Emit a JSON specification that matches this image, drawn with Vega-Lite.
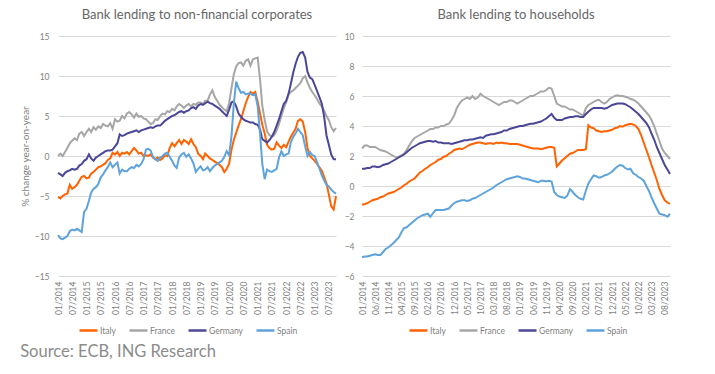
{
  "$schema": "https://vega.github.io/schema/vega-lite/v6.json",
  "background": "white",
  "padding": {"left": 20, "top": 9, "right": 5, "bottom": 5},
  "title": {"text": "Source: ECB, ING Research", "orient": "bottom", "anchor": "start", "fontSize": 16.5, "font": "Lato", "fontWeight": "normal", "color": "#8c8c8c", "offset": 8},
  "config": {
    "font": "Lato",
    "view": {"stroke": null},
    "axis": {"labelFont": "Lato", "labelColor": "#7f7f7f", "labelFontSize": 8.5, "domain": false, "ticks": false, "gridColor": "#d9d9d9", "gridWidth": 1},
    "legend": {"labelFont": "Lato", "labelFontSize": 8.5, "labelColor": "#7f7f7f", "symbolType": "stroke", "symbolSize": 324, "symbolStrokeWidth": 2.5, "labelOffset": 1, "columnPadding": 8, "direction": "horizontal", "gridAlign": "none", "padding": 0}
  },
  "datasets": {
    "corp": [
      {"d":"2014-01","Italy":-5.1,"France":0.0,"Germany":-2.1,"Spain":-9.9},
      {"d":"2014-02","Italy":-5.3,"France":0.3,"Germany":-2.3,"Spain":-10.3},
      {"d":"2014-03","Italy":-5.0,"France":0.0,"Germany":-2.5,"Spain":-10.4},
      {"d":"2014-04","Italy":-4.8,"France":0.5,"Germany":-2.1,"Spain":-10.2},
      {"d":"2014-05","Italy":-4.7,"France":1.0,"Germany":-1.9,"Spain":-10.0},
      {"d":"2014-06","Italy":-3.6,"France":1.6,"Germany":-1.8,"Spain":-9.4},
      {"d":"2014-07","Italy":-4.1,"France":1.9,"Germany":-1.6,"Spain":-9.2},
      {"d":"2014-08","Italy":-3.9,"France":2.2,"Germany":-1.7,"Spain":-9.3},
      {"d":"2014-09","Italy":-3.6,"France":2.0,"Germany":-1.6,"Spain":-9.1},
      {"d":"2014-10","Italy":-3.1,"France":2.8,"Germany":-1.2,"Spain":-9.3},
      {"d":"2014-11","Italy":-2.6,"France":3.0,"Germany":-1.0,"Spain":-9.5},
      {"d":"2014-12","Italy":-2.5,"France":2.5,"Germany":-0.6,"Spain":-7.0},
      {"d":"2015-01","Italy":-2.8,"France":3.0,"Germany":-0.4,"Spain":-6.6},
      {"d":"2015-02","Italy":-2.7,"France":3.4,"Germany":0.2,"Spain":-5.6},
      {"d":"2015-03","Italy":-2.2,"France":3.0,"Germany":-0.3,"Spain":-4.6},
      {"d":"2015-04","Italy":-2.0,"France":3.6,"Germany":-0.6,"Spain":-4.1},
      {"d":"2015-05","Italy":-1.7,"France":3.3,"Germany":-0.2,"Spain":-3.9},
      {"d":"2015-06","Italy":-1.4,"France":3.7,"Germany":0.0,"Spain":-3.5},
      {"d":"2015-07","Italy":-1.3,"France":3.5,"Germany":0.2,"Spain":-2.7},
      {"d":"2015-08","Italy":-1.1,"France":4.0,"Germany":0.4,"Spain":-2.3},
      {"d":"2015-09","Italy":-0.9,"France":3.8,"Germany":0.6,"Spain":-1.8},
      {"d":"2015-10","Italy":-0.5,"France":3.7,"Germany":0.7,"Spain":-1.4},
      {"d":"2015-11","Italy":-0.3,"France":4.1,"Germany":0.7,"Spain":-0.8},
      {"d":"2015-12","Italy":0.4,"France":3.4,"Germany":0.8,"Spain":-1.4},
      {"d":"2016-01","Italy":0.2,"France":4.6,"Germany":1.2,"Spain":-1.1},
      {"d":"2016-02","Italy":0.5,"France":4.3,"Germany":1.6,"Spain":-0.8},
      {"d":"2016-03","Italy":0.0,"France":4.4,"Germany":2.7,"Spain":-2.2},
      {"d":"2016-04","Italy":0.4,"France":5.0,"Germany":2.5,"Spain":-1.7},
      {"d":"2016-05","Italy":0.3,"France":4.7,"Germany":2.6,"Spain":-1.9},
      {"d":"2016-06","Italy":0.5,"France":5.3,"Germany":2.8,"Spain":-1.9},
      {"d":"2016-07","Italy":0.2,"France":5.5,"Germany":2.9,"Spain":-1.6},
      {"d":"2016-08","Italy":0.6,"France":5.2,"Germany":3.0,"Spain":-1.4},
      {"d":"2016-09","Italy":1.0,"France":4.8,"Germany":3.1,"Spain":-1.5},
      {"d":"2016-10","Italy":0.7,"France":5.3,"Germany":3.2,"Spain":-1.1},
      {"d":"2016-11","Italy":0.3,"France":4.9,"Germany":3.0,"Spain":-1.3},
      {"d":"2016-12","Italy":0.4,"France":5.0,"Germany":3.2,"Spain":-1.0},
      {"d":"2017-01","Italy":0.0,"France":4.7,"Germany":3.3,"Spain":-0.4},
      {"d":"2017-02","Italy":0.1,"France":4.6,"Germany":3.4,"Spain":0.8},
      {"d":"2017-03","Italy":0.0,"France":4.3,"Germany":3.5,"Spain":0.9},
      {"d":"2017-04","Italy":0.2,"France":4.0,"Germany":3.6,"Spain":0.7},
      {"d":"2017-05","Italy":-0.2,"France":4.1,"Germany":3.5,"Spain":-0.1},
      {"d":"2017-06","Italy":-0.4,"France":4.6,"Germany":3.7,"Spain":-0.4},
      {"d":"2017-07","Italy":-0.2,"France":4.5,"Germany":3.8,"Spain":-0.6},
      {"d":"2017-08","Italy":-0.5,"France":5.0,"Germany":3.8,"Spain":-0.2},
      {"d":"2017-09","Italy":-0.3,"France":5.3,"Germany":4.1,"Spain":0.0},
      {"d":"2017-10","Italy":0.1,"France":5.2,"Germany":4.4,"Spain":0.3},
      {"d":"2017-11","Italy":0.0,"France":5.6,"Germany":4.6,"Spain":0.4},
      {"d":"2017-12","Italy":1.0,"France":5.5,"Germany":4.8,"Spain":-0.1},
      {"d":"2018-01","Italy":1.6,"France":5.9,"Germany":5.0,"Spain":-0.6},
      {"d":"2018-02","Italy":1.2,"France":5.7,"Germany":5.1,"Spain":-1.2},
      {"d":"2018-03","Italy":1.6,"France":6.2,"Germany":5.3,"Spain":-1.5},
      {"d":"2018-04","Italy":2.0,"France":6.5,"Germany":5.5,"Spain":-0.2},
      {"d":"2018-05","Italy":1.5,"France":6.3,"Germany":5.6,"Spain":0.2},
      {"d":"2018-06","Italy":2.0,"France":6.0,"Germany":5.4,"Spain":0.4},
      {"d":"2018-07","Italy":1.8,"France":6.3,"Germany":5.6,"Spain":-0.1},
      {"d":"2018-08","Italy":1.5,"France":6.5,"Germany":5.7,"Spain":0.2},
      {"d":"2018-09","Italy":2.1,"France":6.2,"Germany":6.0,"Spain":-0.3},
      {"d":"2018-10","Italy":1.5,"France":6.5,"Germany":6.1,"Spain":-0.9},
      {"d":"2018-11","Italy":1.1,"France":6.4,"Germany":5.9,"Spain":-2.0},
      {"d":"2018-12","Italy":0.3,"France":6.7,"Germany":6.3,"Spain":-1.6},
      {"d":"2019-01","Italy":0.0,"France":6.7,"Germany":6.5,"Spain":-1.3},
      {"d":"2019-02","Italy":-0.4,"France":6.5,"Germany":6.4,"Spain":-1.8},
      {"d":"2019-03","Italy":0.3,"France":6.9,"Germany":6.6,"Spain":-1.7},
      {"d":"2019-04","Italy":0.0,"France":6.9,"Germany":6.8,"Spain":-1.4},
      {"d":"2019-05","Italy":-0.3,"France":7.7,"Germany":6.6,"Spain":-1.9},
      {"d":"2019-06","Italy":-0.5,"France":8.2,"Germany":6.5,"Spain":-1.5},
      {"d":"2019-07","Italy":-0.7,"France":7.4,"Germany":6.3,"Spain":-1.2},
      {"d":"2019-08","Italy":-0.9,"France":6.9,"Germany":6.1,"Spain":-1.0},
      {"d":"2019-09","Italy":-1.1,"France":6.4,"Germany":5.9,"Spain":-0.8},
      {"d":"2019-10","Italy":-1.4,"France":6.1,"Germany":5.6,"Spain":-0.6},
      {"d":"2019-11","Italy":-2.0,"France":5.8,"Germany":5.3,"Spain":-0.1},
      {"d":"2019-12","Italy":-1.6,"France":5.6,"Germany":5.0,"Spain":0.6},
      {"d":"2020-01","Italy":-1.0,"France":6.6,"Germany":5.8,"Spain":0.1},
      {"d":"2020-02","Italy":0.8,"France":8.5,"Germany":6.7,"Spain":2.5},
      {"d":"2020-03","Italy":2.0,"France":10.2,"Germany":6.8,"Spain":6.5},
      {"d":"2020-04","Italy":2.9,"France":11.2,"Germany":6.2,"Spain":9.3},
      {"d":"2020-05","Italy":3.8,"France":11.6,"Germany":5.3,"Spain":8.5},
      {"d":"2020-06","Italy":4.6,"France":11.7,"Germany":4.9,"Spain":7.9},
      {"d":"2020-07","Italy":5.6,"France":11.3,"Germany":4.6,"Spain":8.0},
      {"d":"2020-08","Italy":6.6,"France":11.9,"Germany":4.4,"Spain":7.7},
      {"d":"2020-09","Italy":7.4,"France":12.1,"Germany":4.3,"Spain":7.8},
      {"d":"2020-10","Italy":8.0,"France":11.3,"Germany":4.2,"Spain":7.8},
      {"d":"2020-11","Italy":7.8,"France":12.1,"Germany":4.2,"Spain":7.6},
      {"d":"2020-12","Italy":8.0,"France":12.2,"Germany":4.0,"Spain":7.7},
      {"d":"2021-01","Italy":6.8,"France":12.3,"Germany":3.9,"Spain":6.2},
      {"d":"2021-02","Italy":5.3,"France":9.5,"Germany":3.3,"Spain":2.7},
      {"d":"2021-03","Italy":3.9,"France":6.3,"Germany":2.1,"Spain":-1.0},
      {"d":"2021-04","Italy":2.8,"France":4.5,"Germany":1.9,"Spain":-2.9},
      {"d":"2021-05","Italy":1.4,"France":3.1,"Germany":1.7,"Spain":-1.7},
      {"d":"2021-06","Italy":1.0,"France":2.6,"Germany":2.0,"Spain":-1.9},
      {"d":"2021-07","Italy":0.8,"France":2.4,"Germany":2.4,"Spain":-2.0},
      {"d":"2021-08","Italy":0.9,"France":2.6,"Germany":3.0,"Spain":-1.8},
      {"d":"2021-09","Italy":1.7,"France":3.2,"Germany":3.8,"Spain":-1.6},
      {"d":"2021-10","Italy":1.3,"France":4.0,"Germany":4.6,"Spain":-0.2},
      {"d":"2021-11","Italy":1.0,"France":5.0,"Germany":5.6,"Spain":0.6},
      {"d":"2021-12","Italy":1.4,"France":6.0,"Germany":6.5,"Spain":0.0},
      {"d":"2022-01","Italy":1.1,"France":6.7,"Germany":6.9,"Spain":0.2},
      {"d":"2022-02","Italy":1.8,"France":7.7,"Germany":7.8,"Spain":0.3},
      {"d":"2022-03","Italy":2.4,"France":8.0,"Germany":9.0,"Spain":1.7},
      {"d":"2022-04","Italy":2.9,"France":8.2,"Germany":10.4,"Spain":2.4},
      {"d":"2022-05","Italy":3.4,"France":8.5,"Germany":11.5,"Spain":2.8},
      {"d":"2022-06","Italy":4.4,"France":8.8,"Germany":12.4,"Spain":3.4},
      {"d":"2022-07","Italy":4.6,"France":9.1,"Germany":12.9,"Spain":3.0},
      {"d":"2022-08","Italy":4.3,"France":9.7,"Germany":13.0,"Spain":2.6},
      {"d":"2022-09","Italy":3.0,"France":10.0,"Germany":12.3,"Spain":1.2},
      {"d":"2022-10","Italy":1.0,"France":9.2,"Germany":10.5,"Spain":0.0},
      {"d":"2022-11","Italy":0.0,"France":8.5,"Germany":9.8,"Spain":0.5},
      {"d":"2022-12","Italy":-0.3,"France":8.0,"Germany":9.6,"Spain":0.1},
      {"d":"2023-01","Italy":-0.6,"France":7.6,"Germany":8.9,"Spain":0.0},
      {"d":"2023-02","Italy":-1.0,"France":7.1,"Germany":8.1,"Spain":-0.8},
      {"d":"2023-03","Italy":-1.4,"France":6.6,"Germany":7.4,"Spain":-1.5},
      {"d":"2023-04","Italy":-1.8,"France":6.2,"Germany":6.6,"Spain":-2.4},
      {"d":"2023-05","Italy":-2.6,"France":5.7,"Germany":5.0,"Spain":-3.0},
      {"d":"2023-06","Italy":-3.4,"France":5.0,"Germany":2.6,"Spain":-3.6},
      {"d":"2023-07","Italy":-4.8,"France":4.5,"Germany":1.4,"Spain":-3.8},
      {"d":"2023-08","Italy":-6.3,"France":3.6,"Germany":0.2,"Spain":-4.2},
      {"d":"2023-09","Italy":-6.7,"France":3.1,"Germany":-0.4,"Spain":-4.5},
      {"d":"2023-10","Italy":-5.0,"France":3.5,"Germany":-0.4,"Spain":-4.7}
    ],
    "hh": [
      {"d":"2014-01","Italy":-1.25,"France":2.5,"Germany":1.15,"Spain":-4.75},
      {"d":"2014-02","Italy":-1.2,"France":2.7,"Germany":1.15,"Spain":-4.7},
      {"d":"2014-03","Italy":-1.15,"France":2.7,"Germany":1.2,"Spain":-4.7},
      {"d":"2014-04","Italy":-1.05,"France":2.6,"Germany":1.2,"Spain":-4.65},
      {"d":"2014-05","Italy":-0.95,"France":2.6,"Germany":1.3,"Spain":-4.6},
      {"d":"2014-06","Italy":-0.9,"France":2.6,"Germany":1.3,"Spain":-4.55},
      {"d":"2014-07","Italy":-0.85,"France":2.5,"Germany":1.25,"Spain":-4.6},
      {"d":"2014-08","Italy":-0.75,"France":2.4,"Germany":1.3,"Spain":-4.6},
      {"d":"2014-09","Italy":-0.7,"France":2.35,"Germany":1.4,"Spain":-4.4},
      {"d":"2014-10","Italy":-0.6,"France":2.3,"Germany":1.45,"Spain":-4.2},
      {"d":"2014-11","Italy":-0.5,"France":2.2,"Germany":1.5,"Spain":-4.1},
      {"d":"2014-12","Italy":-0.45,"France":2.1,"Germany":1.6,"Spain":-3.95},
      {"d":"2015-01","Italy":-0.4,"France":2.0,"Germany":1.7,"Spain":-3.8},
      {"d":"2015-02","Italy":-0.3,"France":1.9,"Germany":1.8,"Spain":-3.6},
      {"d":"2015-03","Italy":-0.2,"France":1.95,"Germany":1.9,"Spain":-3.45},
      {"d":"2015-04","Italy":-0.1,"France":2.05,"Germany":2.0,"Spain":-3.1},
      {"d":"2015-05","Italy":0.05,"France":2.15,"Germany":2.1,"Spain":-2.8},
      {"d":"2015-06","Italy":0.15,"France":2.4,"Germany":2.25,"Spain":-2.75},
      {"d":"2015-07","Italy":0.3,"France":2.7,"Germany":2.4,"Spain":-2.6},
      {"d":"2015-08","Italy":0.4,"France":3.0,"Germany":2.55,"Spain":-2.45},
      {"d":"2015-09","Italy":0.5,"France":3.2,"Germany":2.65,"Spain":-2.3},
      {"d":"2015-10","Italy":0.7,"France":3.3,"Germany":2.75,"Spain":-2.15},
      {"d":"2015-11","Italy":0.9,"France":3.4,"Germany":2.85,"Spain":-2.05},
      {"d":"2015-12","Italy":1.0,"France":3.5,"Germany":2.9,"Spain":-1.95},
      {"d":"2016-01","Italy":1.15,"France":3.6,"Germany":2.95,"Spain":-1.9},
      {"d":"2016-02","Italy":1.25,"France":3.7,"Germany":3.0,"Spain":-1.85},
      {"d":"2016-03","Italy":1.4,"France":3.8,"Germany":3.0,"Spain":-2.05},
      {"d":"2016-04","Italy":1.5,"France":3.8,"Germany":2.95,"Spain":-1.8},
      {"d":"2016-05","Italy":1.6,"France":3.9,"Germany":3.0,"Spain":-1.6},
      {"d":"2016-06","Italy":1.75,"France":3.9,"Germany":2.9,"Spain":-1.6},
      {"d":"2016-07","Italy":1.8,"France":4.0,"Germany":2.9,"Spain":-1.6},
      {"d":"2016-08","Italy":1.95,"France":4.0,"Germany":2.85,"Spain":-1.6},
      {"d":"2016-09","Italy":2.0,"France":4.1,"Germany":2.85,"Spain":-1.55},
      {"d":"2016-10","Italy":2.15,"France":4.15,"Germany":2.85,"Spain":-1.5},
      {"d":"2016-11","Italy":2.25,"France":4.4,"Germany":2.8,"Spain":-1.3},
      {"d":"2016-12","Italy":2.4,"France":4.7,"Germany":2.85,"Spain":-1.15},
      {"d":"2017-01","Italy":2.45,"France":5.2,"Germany":2.9,"Spain":-1.05},
      {"d":"2017-02","Italy":2.5,"France":5.5,"Germany":2.95,"Spain":-1.0},
      {"d":"2017-03","Italy":2.45,"France":5.7,"Germany":3.0,"Spain":-0.95},
      {"d":"2017-04","Italy":2.55,"France":5.8,"Germany":3.05,"Spain":-0.95},
      {"d":"2017-05","Italy":2.65,"France":5.9,"Germany":3.05,"Spain":-1.0},
      {"d":"2017-06","Italy":2.75,"France":5.8,"Germany":3.1,"Spain":-0.95},
      {"d":"2017-07","Italy":2.8,"France":6.0,"Germany":3.1,"Spain":-0.85},
      {"d":"2017-08","Italy":2.85,"France":5.8,"Germany":3.15,"Spain":-0.8},
      {"d":"2017-09","Italy":2.9,"France":5.9,"Germany":3.2,"Spain":-0.7},
      {"d":"2017-10","Italy":2.9,"France":6.15,"Germany":3.25,"Spain":-0.6},
      {"d":"2017-11","Italy":2.85,"France":6.0,"Germany":3.2,"Spain":-0.5},
      {"d":"2017-12","Italy":2.8,"France":5.9,"Germany":3.35,"Spain":-0.4},
      {"d":"2018-01","Italy":2.85,"France":5.8,"Germany":3.4,"Spain":-0.3},
      {"d":"2018-02","Italy":2.85,"France":5.7,"Germany":3.45,"Spain":-0.2},
      {"d":"2018-03","Italy":2.8,"France":5.6,"Germany":3.45,"Spain":-0.1},
      {"d":"2018-04","Italy":2.9,"France":5.5,"Germany":3.5,"Spain":0.05},
      {"d":"2018-05","Italy":2.85,"France":5.4,"Germany":3.55,"Spain":0.15},
      {"d":"2018-06","Italy":2.9,"France":5.5,"Germany":3.6,"Spain":0.25},
      {"d":"2018-07","Italy":2.85,"France":5.6,"Germany":3.7,"Spain":0.35},
      {"d":"2018-08","Italy":2.85,"France":5.6,"Germany":3.7,"Spain":0.45},
      {"d":"2018-09","Italy":2.8,"France":5.7,"Germany":3.8,"Spain":0.5},
      {"d":"2018-10","Italy":2.8,"France":5.7,"Germany":3.85,"Spain":0.55},
      {"d":"2018-11","Italy":2.8,"France":5.6,"Germany":3.9,"Spain":0.6},
      {"d":"2018-12","Italy":2.8,"France":5.5,"Germany":3.95,"Spain":0.65},
      {"d":"2019-01","Italy":2.75,"France":5.6,"Germany":4.0,"Spain":0.6},
      {"d":"2019-02","Italy":2.7,"France":5.7,"Germany":4.0,"Spain":0.5},
      {"d":"2019-03","Italy":2.65,"France":5.8,"Germany":4.05,"Spain":0.5},
      {"d":"2019-04","Italy":2.6,"France":5.9,"Germany":4.1,"Spain":0.45},
      {"d":"2019-05","Italy":2.55,"France":6.0,"Germany":4.15,"Spain":0.4},
      {"d":"2019-06","Italy":2.5,"France":6.0,"Germany":4.15,"Spain":0.35},
      {"d":"2019-07","Italy":2.5,"France":6.1,"Germany":4.2,"Spain":0.3},
      {"d":"2019-08","Italy":2.5,"France":6.2,"Germany":4.25,"Spain":0.25},
      {"d":"2019-09","Italy":2.45,"France":6.3,"Germany":4.3,"Spain":0.35},
      {"d":"2019-10","Italy":2.5,"France":6.3,"Germany":4.4,"Spain":0.35},
      {"d":"2019-11","Italy":2.55,"France":6.4,"Germany":4.5,"Spain":0.3},
      {"d":"2019-12","Italy":2.6,"France":6.55,"Germany":4.65,"Spain":0.35},
      {"d":"2020-01","Italy":2.6,"France":6.5,"Germany":4.8,"Spain":0.3},
      {"d":"2020-02","Italy":2.55,"France":6.0,"Germany":4.55,"Spain":-0.4},
      {"d":"2020-03","Italy":1.3,"France":5.5,"Germany":4.4,"Spain":-0.6},
      {"d":"2020-04","Italy":1.5,"France":5.4,"Germany":4.4,"Spain":-0.7},
      {"d":"2020-05","Italy":1.7,"France":5.3,"Germany":4.4,"Spain":-0.75},
      {"d":"2020-06","Italy":1.85,"France":5.3,"Germany":4.5,"Spain":-0.8},
      {"d":"2020-07","Italy":2.0,"France":5.2,"Germany":4.55,"Spain":-0.65},
      {"d":"2020-08","Italy":2.15,"France":5.1,"Germany":4.6,"Spain":-0.2},
      {"d":"2020-09","Italy":2.2,"France":5.1,"Germany":4.6,"Spain":-0.4},
      {"d":"2020-10","Italy":2.3,"France":5.0,"Germany":4.65,"Spain":-0.6},
      {"d":"2020-11","Italy":2.4,"France":4.9,"Germany":4.65,"Spain":-0.75},
      {"d":"2020-12","Italy":2.4,"France":4.8,"Germany":4.6,"Spain":-0.85},
      {"d":"2021-01","Italy":2.4,"France":4.7,"Germany":4.6,"Spain":-0.9},
      {"d":"2021-02","Italy":2.45,"France":5.2,"Germany":4.8,"Spain":-0.3},
      {"d":"2021-03","Italy":4.05,"France":5.4,"Germany":4.95,"Spain":0.15},
      {"d":"2021-04","Italy":3.9,"France":5.5,"Germany":5.1,"Spain":0.45},
      {"d":"2021-05","Italy":3.85,"France":5.6,"Germany":5.2,"Spain":0.7},
      {"d":"2021-06","Italy":3.7,"France":5.7,"Germany":5.2,"Spain":0.65},
      {"d":"2021-07","Italy":3.65,"France":5.75,"Germany":5.2,"Spain":0.55},
      {"d":"2021-08","Italy":3.6,"France":5.6,"Germany":5.2,"Spain":0.6},
      {"d":"2021-09","Italy":3.65,"France":5.5,"Germany":5.15,"Spain":0.7},
      {"d":"2021-10","Italy":3.65,"France":5.6,"Germany":5.2,"Spain":0.75},
      {"d":"2021-11","Italy":3.7,"France":5.8,"Germany":5.3,"Spain":0.85},
      {"d":"2021-12","Italy":3.75,"France":5.9,"Germany":5.4,"Spain":0.95},
      {"d":"2022-01","Italy":3.85,"France":6.0,"Germany":5.45,"Spain":1.15},
      {"d":"2022-02","Italy":3.9,"France":6.05,"Germany":5.5,"Spain":1.3},
      {"d":"2022-03","Italy":4.0,"France":6.0,"Germany":5.5,"Spain":1.4},
      {"d":"2022-04","Italy":3.95,"France":6.0,"Germany":5.5,"Spain":1.35},
      {"d":"2022-05","Italy":4.05,"France":5.95,"Germany":5.45,"Spain":1.2},
      {"d":"2022-06","Italy":4.1,"France":5.9,"Germany":5.35,"Spain":1.1},
      {"d":"2022-07","Italy":4.15,"France":5.8,"Germany":5.25,"Spain":1.15},
      {"d":"2022-08","Italy":4.1,"France":5.75,"Germany":5.1,"Spain":0.85},
      {"d":"2022-09","Italy":4.0,"France":5.65,"Germany":4.95,"Spain":0.75},
      {"d":"2022-10","Italy":3.8,"France":5.5,"Germany":4.8,"Spain":0.6},
      {"d":"2022-11","Italy":3.4,"France":5.3,"Germany":4.6,"Spain":0.5},
      {"d":"2022-12","Italy":2.9,"France":5.1,"Germany":4.4,"Spain":0.35},
      {"d":"2023-01","Italy":2.4,"France":4.9,"Germany":4.2,"Spain":0.0},
      {"d":"2023-02","Italy":1.9,"France":4.7,"Germany":3.9,"Spain":-0.35},
      {"d":"2023-03","Italy":1.4,"France":4.4,"Germany":3.5,"Spain":-0.75},
      {"d":"2023-04","Italy":0.9,"France":4.0,"Germany":3.1,"Spain":-1.15},
      {"d":"2023-05","Italy":0.4,"France":3.5,"Germany":2.6,"Spain":-1.5},
      {"d":"2023-06","Italy":-0.2,"France":3.0,"Germany":2.2,"Spain":-1.85},
      {"d":"2023-07","Italy":-0.6,"France":2.5,"Germany":1.8,"Spain":-1.9},
      {"d":"2023-08","Italy":-0.95,"France":2.2,"Germany":1.4,"Spain":-1.95},
      {"d":"2023-09","Italy":-1.1,"France":2.0,"Germany":1.1,"Spain":-2.05},
      {"d":"2023-10","Italy":-1.2,"France":1.8,"Germany":0.8,"Spain":-1.85}
    ]
  },
  "spacing": 4,
  "resolve": {"scale": {"y": "independent", "x": "independent", "color": "independent"}, "legend": {"color": "independent"}},
  "hconcat": [
    {
      "width": 278,
      "height": 240,
      "title": {"text": "Bank lending to non-financial corporates", "fontSize": 13, "fontWeight": "normal", "color": "#666666", "font": "Lato", "offset": 10},
      "data": {"name": "corp"},
      "transform": [{"fold": ["Italy", "France", "Germany", "Spain"], "as": ["country", "value"]}],
      "mark": {"type": "line", "strokeWidth": 2},
      "encoding": {
        "x": {"field": "d", "type": "temporal", "scale": {"type": "utc"}, "title": null,
          "axis": {"grid": false, "labelAngle": -90, "labelExpr": "utcFormat(datum.value, '%m/%Y')", "labelPadding": 5,
            "values": [
              {"year":2014,"month":1,"utc":true},{"year":2014,"month":7,"utc":true},
              {"year":2015,"month":1,"utc":true},{"year":2015,"month":7,"utc":true},
              {"year":2016,"month":1,"utc":true},{"year":2016,"month":7,"utc":true},
              {"year":2017,"month":1,"utc":true},{"year":2017,"month":7,"utc":true},
              {"year":2018,"month":1,"utc":true},{"year":2018,"month":7,"utc":true},
              {"year":2019,"month":1,"utc":true},{"year":2019,"month":7,"utc":true},
              {"year":2020,"month":1,"utc":true},{"year":2020,"month":7,"utc":true},
              {"year":2021,"month":1,"utc":true},{"year":2021,"month":7,"utc":true},
              {"year":2022,"month":1,"utc":true},{"year":2022,"month":7,"utc":true},
              {"year":2023,"month":1,"utc":true},{"year":2023,"month":7,"utc":true}
            ]}},
        "y": {"field": "value", "type": "quantitative", "scale": {"domain": [-15, 15]},
          "title": "% change year-on-year",
          "axis": {"values": [-15, -10, -5, 0, 5, 10, 15], "labelPadding": 9, "titlePadding": 4, "titleFontSize": 10, "titleFontWeight": "normal", "titleColor": "#7f7f7f", "titleFont": "Lato"}},
        "color": {"field": "country", "type": "nominal",
          "scale": {"domain": ["Italy", "France", "Germany", "Spain"], "range": ["#ff6200", "#a6a6a6", "#4b4797", "#5ea3db"]},
          "legend": {"title": null, "orient": "none", "legendX": 20, "legendY": 284}}
      }
    },
    {
      "width": 308,
      "height": 240,
      "title": {"text": "Bank lending to households", "fontSize": 13, "fontWeight": "normal", "color": "#666666", "font": "Lato", "offset": 10},
      "data": {"name": "hh"},
      "transform": [{"fold": ["Italy", "France", "Germany", "Spain"], "as": ["country", "value"]}],
      "mark": {"type": "line", "strokeWidth": 2},
      "encoding": {
        "x": {"field": "d", "type": "temporal", "scale": {"type": "utc"}, "title": null,
          "axis": {"grid": false, "labelAngle": -90, "labelExpr": "utcFormat(datum.value, '%m/%Y')", "labelPadding": 5,
            "values": [
              {"year":2014,"month":1,"utc":true},{"year":2014,"month":6,"utc":true},{"year":2014,"month":11,"utc":true},
              {"year":2015,"month":4,"utc":true},{"year":2015,"month":9,"utc":true},
              {"year":2016,"month":2,"utc":true},{"year":2016,"month":7,"utc":true},{"year":2016,"month":12,"utc":true},
              {"year":2017,"month":5,"utc":true},{"year":2017,"month":10,"utc":true},
              {"year":2018,"month":3,"utc":true},{"year":2018,"month":8,"utc":true},
              {"year":2019,"month":1,"utc":true},{"year":2019,"month":6,"utc":true},{"year":2019,"month":11,"utc":true},
              {"year":2020,"month":4,"utc":true},{"year":2020,"month":9,"utc":true},
              {"year":2021,"month":2,"utc":true},{"year":2021,"month":7,"utc":true},{"year":2021,"month":12,"utc":true},
              {"year":2022,"month":5,"utc":true},{"year":2022,"month":10,"utc":true},
              {"year":2023,"month":3,"utc":true},{"year":2023,"month":8,"utc":true}
            ]}},
        "y": {"field": "value", "type": "quantitative", "scale": {"domain": [-6, 10]}, "title": null,
          "axis": {"values": [-6, -4, -2, 0, 2, 4, 6, 8, 10], "labelPadding": 8}},
        "color": {"field": "country", "type": "nominal",
          "scale": {"domain": ["Italy", "France", "Germany", "Spain"], "range": ["#ff6200", "#a6a6a6", "#4b4797", "#5ea3db"]},
          "legend": {"title": null, "orient": "none", "legendX": 46, "legendY": 284}}
      }
    }
  ]
}
